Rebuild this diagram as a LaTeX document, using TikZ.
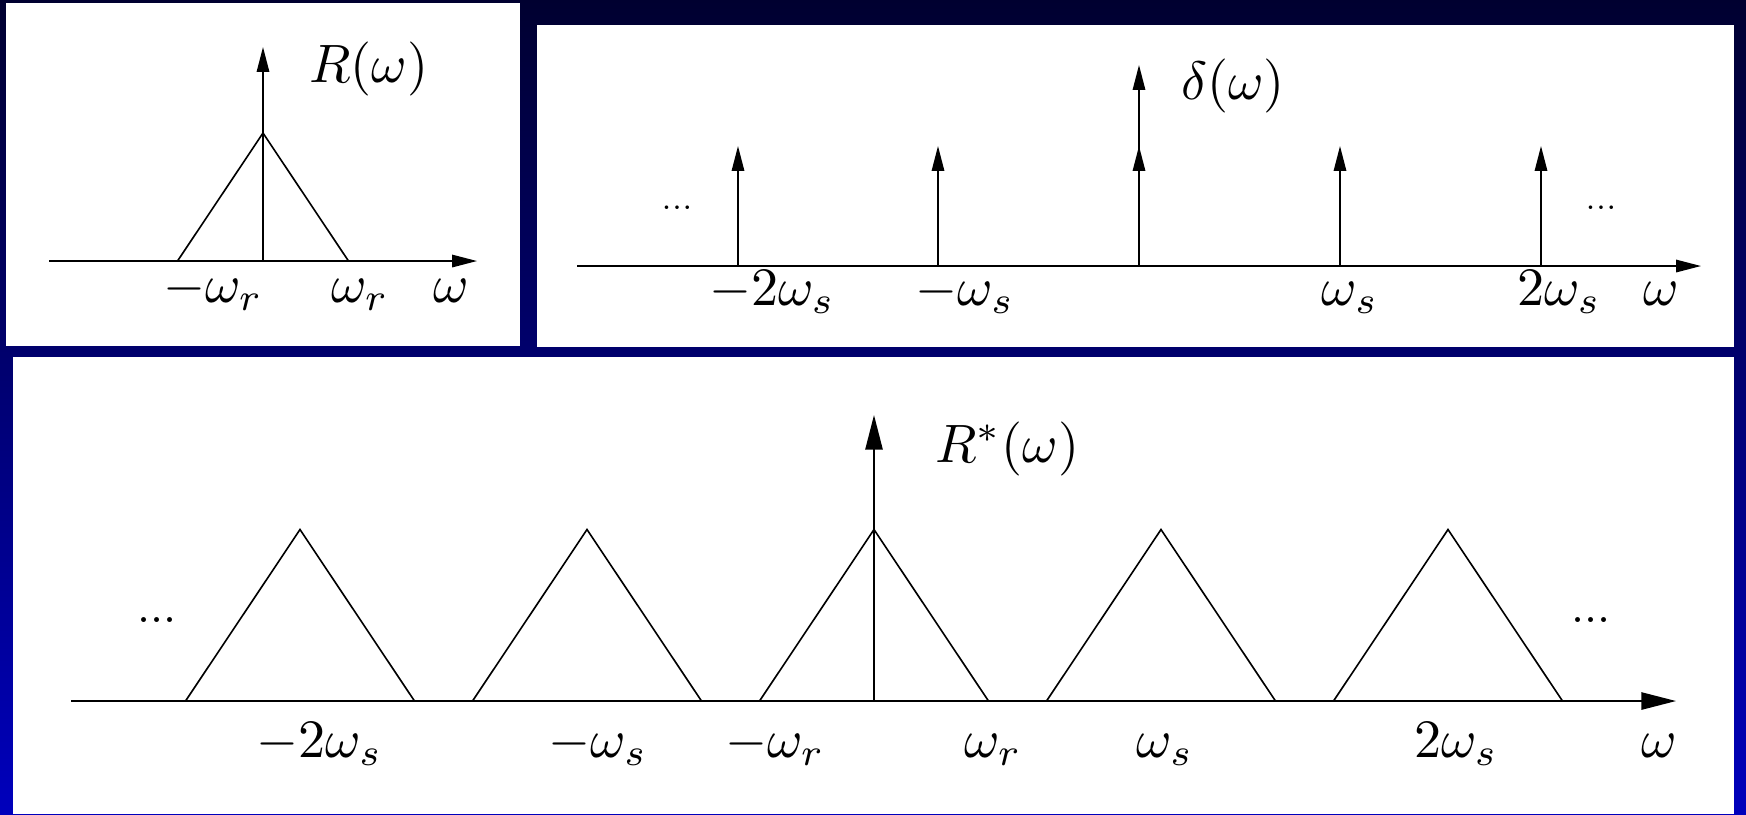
\documentclass[tikz,border=0pt]{standalone}
\usetikzlibrary{arrows.meta}
\definecolor{bgtop}{RGB}{0,0,48}
\definecolor{bgbot}{RGB}{0,0,188}
\begin{document}
\begin{tikzpicture}[x=0.185pt,y=-0.185pt,
  ln/.style={line width=0.3pt},
  sarr/.style={ln,-{Triangle[length=4.6pt,width=2.3pt]}},
  barr/.style={ln,-{Triangle[length=6.4pt,width=3.2pt]}},
  lbl/.style={anchor=base,inner sep=0pt,font=\fontsize{10}{12}\selectfont},
  ttl/.style={anchor=base west,inner sep=0pt,font=\fontsize{10}{12}\selectfont},
  dotsS/.style={inner sep=0pt,font=\fontsize{5.5}{6}\selectfont},
  dotsB/.style={inner sep=0pt,font=\fontsize{8.5}{10}\selectfont}]
\useasboundingbox (0,0) rectangle (1746,814);
\shade[top color=bgtop,bottom color=bgbot] (0,0) rectangle (1746,814);
\fill[white] (6,3) rectangle (520,346);
\fill[white] (537,25) rectangle (1734,347);
\fill[white] (13,357) rectangle (1734,814);

% ---------- panel 1: R(w)
\coordinate (a1l) at (49,261);
\coordinate (a1r) at (477,261);
\coordinate (a1o) at (263,261);
\coordinate (a1t) at (263,47);
\draw[sarr] (a1l) -- (a1r);
\draw[sarr] (a1o) -- (a1t);
\draw[ln] (177.5,261) -- (263,133) -- (348.5,261);
\node[ttl] (t1) at (308,82) {$R(\omega)$};
\node[lbl] (p1a) at (213,302) {$-\omega_r$};
\node[lbl] (p1b) at (360,302) {$\omega_r$};
\node[lbl] (p1c) at (451,302) {$\omega$};

% ---------- panel 2: delta(w)
\coordinate (a2l) at (577,266);
\coordinate (a2r) at (1701,266);
\coordinate (a2t) at (1139,65);
\draw[sarr] (a2l) -- (a2r);
\foreach \k/\xx in {m2/738,m1/938,z/1139,p1/1340,p2/1541}{
  \coordinate (b\k) at (\xx,266);
  \coordinate (h\k) at (\xx,146);
  \draw[sarr] (b\k) -- (h\k);
}
\draw[sarr] (bz) -- (a2t);
\node[ttl] (t2) at (1180,99) {$\delta(\omega)$};
\node[lbl] (p2a) at (772,305) {$-2\omega_s$};
\node[lbl] (p2b) at (965,305) {$-\omega_s$};
\node[lbl] (p2c) at (1350,305) {$\omega_s$};
\node[lbl] (p2d) at (1559,305) {$2\omega_s$};
\node[lbl] (p2e) at (1661,305) {$\omega$};
\node[dotsS] (d2l) at (677,208) {...};
\node[dotsS] (d2r) at (1601,208) {...};

% ---------- panel 3: R*(w)
\coordinate (a3l) at (71,701);
\coordinate (a3r) at (1676,701);
\coordinate (a3o) at (874,701);
\coordinate (a3t) at (874,415);
\draw[barr] (a3l) -- (a3r);
\draw[barr] (a3o) -- (a3t);
\foreach \cx in {300,587,874,1161,1448}{
  \draw[ln] (\cx-114.5,701) -- (\cx,529.5) -- (\cx+114.5,701);
}
\node[ttl] (t3) at (934,462) {$R^*(\omega)$};
\node[lbl] (p3a) at (319.5,757) {$-2\omega_s$};
\node[lbl] (p3b) at (598,757) {$-\omega_s$};
\node[lbl] (p3c) at (775,757) {$-\omega_r$};
\node[lbl] (p3d) at (993,757) {$\omega_r$};
\node[lbl] (p3e) at (1165,757) {$\omega_s$};
\node[lbl] (p3f) at (1456,757) {$2\omega_s$};
\node[lbl] (p3g) at (1659,757) {$\omega$};
\node[dotsB] (d3l) at (157,620) {...};
\node[dotsB] (d3r) at (1591,620) {...};
\end{tikzpicture}
\end{document}
